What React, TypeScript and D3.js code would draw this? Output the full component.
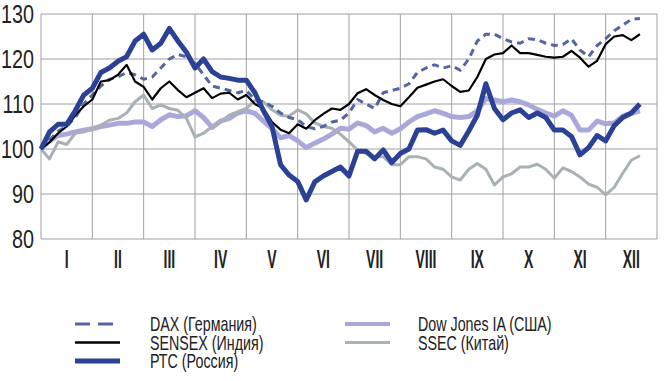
import React from "react";
import * as d3 from "d3";

const months = ["I", "II", "III", "IV", "V", "VI", "VII", "VIII", "IX", "X", "XI", "XII"];
const yTicks = [80, 90, 100, 110, 120, 130];

// values sampled every 1/6 of a month, starting at the beginning of January
const dax = [100, 102, 104, 105, 107, 110, 112, 114, 115.5, 116, 117, 116.5, 115.5, 116, 118, 120, 121, 120.5, 119, 116.5,
  114, 113.5, 113, 112.5, 113, 111, 110.5, 109.5, 108, 107, 106.5, 105, 104.5, 105, 106, 106.4, 108, 111, 110, 109,
  112.5, 113, 113.5, 114.5, 117, 118, 118.7, 118, 118.5, 117.5, 120, 124, 125.5, 125.5, 124.5, 123.8, 123.5, 124.5, 124.3, 123.5,
  123, 123.2, 124.5, 122, 120.5, 123, 124.5, 126.3, 127.5, 128.8, 129];
const sensex = [100, 101.5, 103.5, 105, 107.5, 109.5, 111, 115, 115.3, 116.5, 118.7, 115, 113.8, 111, 113.5, 115, 113.1, 111.5, 112.5, 113.5,
  111.3, 112.3, 112.5, 111, 112, 110, 109, 106, 104.3, 103.5, 105.5, 104.5, 106.4, 107.8, 109, 108.7, 110, 112.4, 113.3, 112,
  110.9, 110, 109.5, 111.5, 113.6, 114.3, 115, 115.5, 114, 112.7, 113, 116, 120, 121, 121.3, 123, 121.3, 121.3, 120.9, 120.5,
  120.3, 120.5, 121.8, 120.3, 118.3, 119.6, 123.3, 125, 125.3, 124.2, 125.5];
const rts = [100, 103.8, 105.5, 105.5, 108.5, 112, 113.5, 117, 118, 119.5, 120.5, 124, 125.5, 122, 123.5, 126.8, 124, 121.5, 118, 120,
  117.2, 116, 115.7, 115.3, 115.3, 112.5, 108.5, 105, 96.5, 94.2, 92.8, 88.7, 92.7, 94, 95, 96, 94, 99.5, 99.5, 97.8,
  99.8, 97, 99, 100, 104.2, 104.3, 103.5, 104.2, 101.8, 100.8, 104, 107.5, 114.5, 109, 106.5, 108, 108.7, 107, 108, 107,
  104.2, 104.2, 102.8, 98.7, 100.3, 103, 101.8, 105.2, 107, 108, 110];
const dowJones = [100, 101.8, 103, 103.3, 103.8, 104.2, 104.5, 105, 105.3, 105.7, 105.7, 106, 106, 105, 106.5, 107.6, 107.2, 107.4, 108.5, 107,
  104.8, 106.2, 106.8, 108, 108.5, 107.9, 106.2, 104.5, 102.5, 103, 101.8, 100.3, 101.3, 102.2, 103.3, 104.6, 104.4, 105.8, 105.2, 103.8,
  104.6, 103.5, 104.5, 106, 107.2, 107.8, 108.5, 107.9, 107.2, 107, 107.2, 108.5, 111.2, 110.9, 110.5, 110.9, 110.5, 109.8, 108.8, 108,
  107.3, 108.5, 107.5, 104.2, 104.2, 106.2, 105.6, 105.8, 107.3, 107.9, 108.5];
const ssec = [100, 97.8, 101.6, 101, 103.5, 103.8, 104.4, 105.3, 106.4, 106.8, 108, 110.5, 112, 109, 109.8, 109, 108.6, 106.8, 102.7, 103.5,
  105, 106, 107.5, 108.3, 109, 110.8, 110.5, 108.7, 107.5, 107.3, 108.7, 107.8, 105.8, 105, 104.6, 103.3, 101.6, 99.8, 99, 98.3,
  98.3, 96.5, 96.5, 98.3, 98.3, 97.8, 96, 95.5, 93.8, 93.1, 95.5, 96.8, 95.5, 92, 93.8, 94.5, 96, 96, 96.6, 95.5,
  93.5, 95.8, 95, 93.8, 92.2, 91.5, 89.8, 91.5, 94.6, 97.5, 98.5];

const seriesNames = ["DAX (Германия)", "SENSEX (Индия)", "РТС (Россия)", "Dow Jones IA (США)", "SSEC (Китай)"];

const FONT = "'Liberation Sans', Arial, sans-serif";

function CText({ x, y, sx, size, anchor, weight, children }: any) {
  return (
    <g transform={`translate(${x},${y}) scale(${sx},1)`}>
      <text x={0} y={0} fontSize={size} textAnchor={anchor || "start"} fontWeight={weight || "normal"} fill="#222">
        {children}
      </text>
    </g>
  );
}

export default function App() {
  const W = 665;
  const H = 381;
  const x = d3.scaleLinear().domain([0, 12]).range([41, 657]);
  const y = d3.scaleLinear().domain([80, 130]).range([239, 14]);
  const line = d3
    .line<number>()
    .x((_, i) => x(i / 6))
    .y((d) => y(d));

  const styles = [
    { data: dowJones, color: "#aaa8da", width: 5, dash: undefined as string | undefined },
    { data: ssec, color: "#a8b1b5", width: 3, dash: undefined },
    { data: dax, color: "#55659f", width: 3, dash: "7,5" },
    { data: sensex, color: "#000000", width: 2.2, dash: undefined },
    { data: rts, color: "#2b4196", width: 5, dash: undefined },
  ];

  const legend = [
    { name: seriesNames[0], color: "#55659f", width: 3, dash: "15,8", lx: 75, tx: 150, ly: 324 },
    { name: seriesNames[1], color: "#000000", width: 2.5, dash: undefined as string | undefined, lx: 75, tx: 150, ly: 342.5 },
    { name: seriesNames[2], color: "#2b4196", width: 5, dash: undefined, lx: 75, tx: 150, ly: 361 },
    { name: seriesNames[3], color: "#aaa8da", width: 4, dash: undefined, lx: 345, tx: 418, ly: 324 },
    { name: seriesNames[4], color: "#a8b1b5", width: 3, dash: undefined, lx: 345, tx: 418, ly: 342.5 },
  ];

  return (
    <svg width={W} height={H} style={{ position: "absolute", left: 0, top: 0, background: "#fff" }} fontFamily={FONT}>
      {/* grid */}
      {yTicks.map((t) => (
        <line key={"h" + t} x1={x(0)} x2={x(12)} y1={y(t)} y2={y(t)} stroke="#a0a0a0" strokeWidth={1} />
      ))}
      {d3.range(0, 13).map((m) => (
        <line key={"v" + m} x1={x(m)} x2={x(m)} y1={y(80)} y2={y(130)} stroke="#a0a0a0" strokeWidth={1} />
      ))}
      {/* lines */}
      {styles.map((s, i) => (
        <path
          key={i}
          d={line(s.data) || ""}
          fill="none"
          stroke={s.color}
          strokeWidth={s.width}
          strokeDasharray={s.dash}
          strokeLinejoin="round"
        />
      ))}
      {/* y labels */}
      {yTicks.map((t) => (
        <CText key={"yl" + t} x={34} y={y(t) + 9} sx={0.79} size={25} anchor="end">
          {t}
        </CText>
      ))}
      {/* month labels */}
      {months.map((m, i) => (
        <CText key={m} x={x(i + 0.5)} y={268} sx={0.56} size={25} anchor="middle" weight="bold">
          {m}
        </CText>
      ))}
      {/* legend */}
      {legend.map((l) => (
        <g key={l.name}>
          <line x1={l.lx} x2={l.lx + 45} y1={l.ly} y2={l.ly} stroke={l.color} strokeWidth={l.width} strokeDasharray={l.dash} />
          <CText x={l.tx} y={l.ly + 7} sx={0.68} size={21}>
            {l.name}
          </CText>
        </g>
      ))}
    </svg>
  );
}
